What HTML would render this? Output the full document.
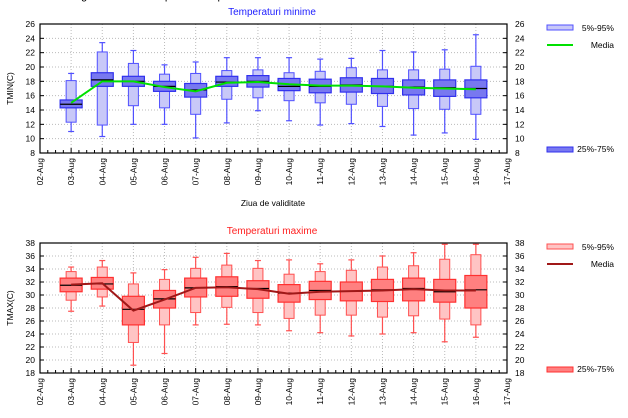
<!DOCTYPE html>
<html><head><meta charset="utf-8"><style>
body{margin:0;background:#fff;width:628px;height:418px;overflow:hidden}
svg{display:block;font-family:"Liberation Sans",sans-serif}
</style></head><body>
<svg id="s" width="628" height="418" xmlns="http://www.w3.org/2000/svg"></svg>
<script>
const S=document.getElementById('s');let h='';
h+='<text x="64" y="-1" font-size="11" fill="#000">Prognoza ansamblu pentru temperaturi</text>';
const X0=40,X1=507,dx=(X1-X0)/15;
const days=['02','03','04','05','06','07','08','09','10','11','12','13','14','15','16','17'];
function chart(top,bot,ymin,ymax,title,tcol,ylab,data,mean,c){
 const sy=v=>bot-(v-ymin)*(bot-top)/(ymax-ymin);
 h+=`<text x="272" y="${top-9}" font-size="10" fill="${tcol}" text-anchor="middle">${title}</text>`;
 for(let v=ymin;v<=ymax;v+=2){const y=sy(v);
  if(v>ymin&&v<ymax)h+=`<line x1="${X0}" x2="${X1}" y1="${y}" y2="${y}" stroke="#bbb" stroke-dasharray="1,2"/>`;
  h+=`<line x1="${X0}" x2="${X0+4}" y1="${y}" y2="${y}" stroke="#000"/><line x1="${X1-4}" x2="${X1}" y1="${y}" y2="${y}" stroke="#000"/>`;
  h+=`<text x="${X0-5}" y="${y+3}" font-size="8.5" text-anchor="end">${v}</text><text x="${X1+8}" y="${y+3}" font-size="8.5">${v}</text>`;}
 for(let i=0;i<=15;i++){const x=X0+i*dx;
  if(i>0&&i<15)h+=`<line x1="${x}" x2="${x}" y1="${top}" y2="${bot}" stroke="#bbb" stroke-dasharray="1,2"/>`;
  h+=`<line x1="${x}" x2="${x}" y1="${bot}" y2="${bot-5}" stroke="#000"/>`;
  if(i<15)for(let k=1;k<4;k++){const xm=x+k*dx/4;h+=`<line x1="${xm}" x2="${xm}" y1="${bot}" y2="${bot-3}" stroke="#000"/>`;}
  h+=`<text transform="translate(${x+3},${bot+5}) rotate(-90)" font-size="8.5" text-anchor="end">${days[i]}-Aug</text>`;}
 data.forEach((d,i)=>{const x=X0+(i+1)*dx;
  h+=`<line x1="${x}" x2="${x}" y1="${sy(d[0])}" y2="${sy(d[6])}" stroke="${c[1]}" stroke-width="1.2"/>`;
  h+=`<line x1="${x-3}" x2="${x+3}" y1="${sy(d[0])}" y2="${sy(d[0])}" stroke="${c[1]}" stroke-width="1.2"/><line x1="${x-3}" x2="${x+3}" y1="${sy(d[6])}" y2="${sy(d[6])}" stroke="${c[1]}" stroke-width="1.2"/>`;
  h+=`<rect x="${x-5}" y="${sy(d[5])}" width="10" height="${sy(d[1])-sy(d[5])}" fill="${c[0]}" stroke="${c[1]}" stroke-width="1"/>`;
  h+=`<rect x="${x-11}" y="${sy(d[4])}" width="22" height="${sy(d[2])-sy(d[4])}" fill="${c[2]}" stroke="${c[3]}" stroke-width="1.2"/>`;
  h+=`<line x1="${x-11}" x2="${x+11}" y1="${sy(d[3])}" y2="${sy(d[3])}" stroke="#000" stroke-width="1.2"/>`;});
 h+=`<polyline fill="none" stroke="${c[4]}" stroke-width="2" points="${mean.map((m,i)=>(X0+(i+1)*dx)+','+sy(m)).join(' ')}"/>`;
 h+=`<rect x="${X0}" y="${top}" width="${X1-X0}" height="${bot-top}" fill="none" stroke="#000" stroke-width="1.2"/>`;
 h+=`<text transform="translate(13,${(top+bot)/2}) rotate(-90)" font-size="8.5" text-anchor="middle">${ylab}</text>`;
 h+=`<rect x="547" y="${top+1}" width="26" height="5" fill="${c[0]}" stroke="${c[1]}"/><text x="614" y="${top+7}" font-size="8.5" text-anchor="end">5%-95%</text>`;
 h+=`<line x1="547" x2="573" y1="${top+21}" y2="${top+21}" stroke="${c[4]}" stroke-width="2"/><text x="614" y="${top+24}" font-size="8.5" text-anchor="end">Media</text>`;
 h+=`<rect x="547" y="${bot-6}" width="26" height="5" fill="${c[2]}" stroke="${c[3]}"/><text x="614" y="${bot-1}" font-size="8.5" text-anchor="end">25%-75%</text>`;
}
const tmin=[[11,12.3,14.3,14.8,15.4,18.1,19.1],[10.3,11.9,17.3,18.2,19.2,22.1,23.4],[12,14.6,17.3,18,18.7,20.5,22.3],[12,14.3,16.6,17.3,18,19,20.3],[10.1,13.4,15.8,16.8,17.7,19.1,20.7],[12.2,15.5,17.3,17.9,18.7,19.5,21.3],[13.9,15.7,17.2,18,18.8,19.6,21.3],[12.5,15.3,16.7,17.3,18.4,19.2,21.3],[11.9,15,16.4,17.3,18.3,19.4,21.1],[12.1,14.8,16.5,17.5,18.5,19.9,21.2],[11.7,14.5,16.3,17.3,18.4,19.6,22.3],[10.5,14.2,16.1,17.2,18.2,19.6,22.1],[10.8,14.1,15.9,17.1,18.2,19.7,22.4],[9.9,13.4,15.7,17,18.2,20.1,24.5]];
const mmin=[15,18,18,17.2,16.6,17.8,17.9,17.6,17.4,17.4,17.3,17.1,17,16.9];
const tmax=[[27.5,29.2,30.5,31.5,32.6,33.6,34.3],[28.3,29.7,30.9,31.7,32.7,34.3,35.3],[19.2,22.7,25.4,27.8,29.8,31.7,33.4],[21,25.4,28,29.4,30.7,32.4,33.9],[25.4,27.3,29.7,31.1,32.6,34.1,35.8],[25.5,28.1,29.8,31.3,32.8,34.6,36.4],[25.4,27.3,29.5,31,32.2,34.1,35.3],[24.5,26.4,28.9,30.3,31.6,33.2,35.4],[24.2,26.9,29.3,30.7,32.1,33.6,34.8],[23.7,26.9,29.1,30.6,32,33.8,35.4],[24,26.6,29,30.8,32.4,34.3,36],[24.2,26.8,29.1,31,32.6,34.5,36.5],[22.8,26.3,28.9,30.5,32.4,35.5,37.8],[23.5,25.4,28,30.8,33,36.2,37.8]];
const mmax=[31.6,31.8,27.6,29.3,31.1,31.2,30.9,30.2,30.5,30.6,30.7,30.9,30.7,30.7];
chart(24,153,8,26,'Temperaturi minime','#2020ff','TMIN(C)',tmin,mmin,['#c8c8f8','#5050ff','#7878f0','#3030ee','#00e000']);
h+='<text x="273" y="206" font-size="8.5" text-anchor="middle">Ziua de validitate</text>';
chart(243,373,18,38,'Temperaturi maxime','#ff2020','TMAX(C)',tmax,mmax,['#ffc4c4','#ff5050','#ff8080','#ff3030','#a01818']);
S.innerHTML=h;
</script>
</body></html>
